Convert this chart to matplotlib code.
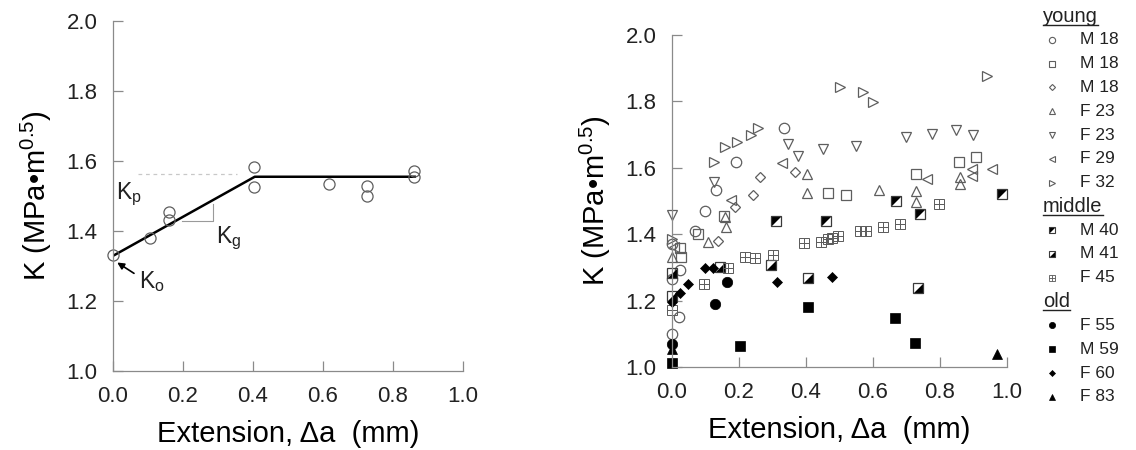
import matplotlib
matplotlib.use("Agg")
import matplotlib.pyplot as plt
import matplotlib.ticker as mticker

plt.rcParams.update({
    "font.family": ["Liberation Sans", "DejaVu Sans"],
    "mathtext.fontset": "custom",
    "mathtext.rm": "Liberation Sans",
    "mathtext.it": "Liberation Sans",
    "mathtext.default": "regular",
    "text.color": "#222222",
})

# ---- left panel: one specimen --------------------------------------------
EX_X = [0.0, 0.105, 0.16, 0.16, 0.403, 0.403, 0.618, 0.725, 0.725, 0.861, 0.861]
EX_Y = [1.331, 1.38, 1.453, 1.431, 1.583, 1.525, 1.534, 1.53, 1.50, 1.572, 1.555]
FIT_X = [0.0, 0.405, 0.862]
FIT_Y = [1.329, 1.555, 1.555]

# ---- right panel: all specimens ------------------------------------------
M18A_X = [0.0, 0.021, 0.0, 0.024, 0.069, 0.099, 0.13, 0.19, 0.335, 0.0]
M18A_Y = [1.10, 1.151, 1.265, 1.292, 1.41, 1.47, 1.534, 1.616, 1.721, 1.37]
M18B_X = [0.027, 0.024, 0.078, 0.155, 0.467, 0.519, 0.728, 0.858, 0.907]
M18B_Y = [1.332, 1.357, 1.40, 1.454, 1.525, 1.518, 1.581, 1.617, 1.632]
M18C_X = [0.138, 0.188, 0.243, 0.263, 0.367]
M18C_Y = [1.379, 1.482, 1.517, 1.571, 1.586]
F23A_X = [0.0, 0.108, 0.161, 0.158, 0.404, 0.404, 0.619, 0.727, 0.727, 0.861, 0.861]
F23A_Y = [1.33, 1.377, 1.422, 1.452, 1.582, 1.524, 1.534, 1.53, 1.498, 1.572, 1.552]
F23B_X = [0.0, 0.126, 0.347, 0.376, 0.45, 0.549, 0.699, 0.775, 0.848, 0.898]
F23B_Y = [1.457, 1.557, 1.672, 1.637, 1.657, 1.665, 1.693, 1.703, 1.715, 1.70]
F29_X = [0.005, 0.176, 0.327, 0.76, 0.895, 0.895, 0.954]
F29_Y = [1.36, 1.504, 1.614, 1.567, 1.597, 1.574, 1.597]
F32_X = [0.0, 0.126, 0.158, 0.193, 0.235, 0.257, 0.501, 0.571, 0.601, 0.939]
F32_Y = [1.387, 1.617, 1.663, 1.677, 1.699, 1.721, 1.843, 1.828, 1.798, 1.878]
M40_X = [0.31, 0.46, 0.669, 0.74, 0.984]
M40_Y = [1.44, 1.44, 1.50, 1.46, 1.52]
M41_X = [0.0, 0.0, 0.143, 0.297, 0.407, 0.735]
M41_Y = [1.214, 1.282, 1.30, 1.307, 1.267, 1.239]
F45_X = [0.0, 0.097, 0.168, 0.218, 0.248, 0.302, 0.394, 0.444, 0.466, 0.477,
         0.496, 0.561, 0.578, 0.629, 0.682, 0.798]
F45_Y = [1.171, 1.251, 1.297, 1.332, 1.328, 1.337, 1.374, 1.377, 1.385, 1.39,
         1.394, 1.41, 1.41, 1.421, 1.431, 1.492]
F55_X = [0.0, 0.128, 0.163]
F55_Y = [1.07, 1.191, 1.255]
M59_X = [0.0, 0.203, 0.407, 0.666, 0.725]
M59_Y = [1.011, 1.063, 1.181, 1.148, 1.073]
F60_X = [0.0, 0.024, 0.049, 0.099, 0.121, 0.313, 0.479]
F60_Y = [1.195, 1.224, 1.25, 1.297, 1.297, 1.257, 1.272]
F83_X = [0.0, 0.969]
F83_Y = [1.053, 1.039]

GROUPS = ["young", "middle", "old"]
SERIES = [
    ("young", "M 18", "o", M18A_X, M18A_Y),
    ("young", "M 18", "s", M18B_X, M18B_Y),
    ("young", "M 18", "D", M18C_X, M18C_Y),
    ("young", "F 23", "^", F23A_X, F23A_Y),
    ("young", "F 23", "v", F23B_X, F23B_Y),
    ("young", "F 29", "<", F29_X, F29_Y),
    ("young", "F 32", ">", F32_X, F32_Y),
    ("middle", "M 40", "ul", M40_X, M40_Y),
    ("middle", "M 41", "lr", M41_X, M41_Y),
    ("middle", "F 45", "grid", F45_X, F45_Y),
    ("old", "F 55", "fo", F55_X, F55_Y),
    ("old", "M 59", "fs", M59_X, M59_Y),
    ("old", "F 60", "fD", F60_X, F60_Y),
    ("old", "F 83", "f^", F83_X, F83_Y),
]

GRAY = "#5e5e5e"
AXC = "#8a8a8a"
UL = [(-1, 1), (1, 1), (-1, -1)]
LR = [(1, -1), (-1, -1), (1, 1)]


def draw(ax, kind, x, y, ms, mew=0.9):
    kw = dict(ls="none", clip_on=False)
    dsize = ms * 0.68
    if kind in ("o", "s", "^", "v", "<", ">"):
        ax.plot(x, y, marker=kind, ms=ms, mfc="none", mec=GRAY, mew=mew, **kw)
    elif kind == "D":
        ax.plot(x, y, marker="D", ms=dsize, mfc="none", mec=GRAY, mew=mew, **kw)
    elif kind in ("ul", "lr"):
        ax.plot(x, y, marker=UL if kind == "ul" else LR, ms=ms, mfc="black",
                mec="none", **kw)
        ax.plot(x, y, marker="s", ms=ms, mfc="none", mec="#3a3a3a", mew=mew, **kw)
    elif kind == "grid":
        ax.plot(x, y, marker="s", ms=ms, mfc="none", mec=GRAY, mew=mew * 0.8, **kw)
        ax.plot(x, y, marker="+", ms=ms, mec=GRAY, mew=mew * 0.8, **kw)
    else:
        m = kind[1:]
        s = dsize if m == "D" else ms
        ax.plot(x, y, marker=m, ms=s, mfc="black", mec="black", mew=0.5, **kw)


def style(ax):
    ax.set_xlim(0, 1)
    ax.set_ylim(1, 2)
    ax.set_xticks([0, 0.2, 0.4, 0.6, 0.8, 1.0])
    ax.set_yticks([1.0, 1.2, 1.4, 1.6, 1.8, 2.0])
    ax.xaxis.set_major_formatter(mticker.FormatStrFormatter("%.1f"))
    ax.yaxis.set_major_formatter(mticker.FormatStrFormatter("%.1f"))
    for s in ("top", "right"):
        ax.spines[s].set_visible(False)
    for s in ("left", "bottom"):
        ax.spines[s].set_color(AXC)
        ax.spines[s].set_linewidth(0.9)
    ax.tick_params(direction="in", length=7, width=0.9, color=AXC,
                   labelsize=16, labelcolor="#222222", pad=11)
    ax.set_xlabel("Extension, \u0394a  (mm)", fontsize=21, labelpad=9)
    ax.set_ylabel("K (MPa\u2022m$^{0.5}$)", fontsize=21, labelpad=9)


fig = plt.figure(figsize=(11.36, 4.5), dpi=100)

# left
ax1 = fig.add_axes([113 / 1136, 79 / 450, 350 / 1136, 350 / 450])
style(ax1)
ax1.plot([0.07, 0.355], [1.562, 1.562], ls=(0, (3, 3)), color="#c8c8c8", lw=0.9)
ax1.plot([0.197, 0.286, 0.286], [1.429, 1.429, 1.478], color="#9a9a9a", lw=0.8)
ax1.plot(FIT_X, FIT_Y, color="black", lw=1.8)
ax1.plot(EX_X, EX_Y, ls="none", marker="o", ms=8, mfc="none", mec=GRAY,
         mew=0.9, clip_on=False)
ax1.text(0.008, 1.49, r"K$_{p}$", fontsize=16.5, ha="left", va="baseline")
ax1.text(0.295, 1.366, r"K$_{g}$", fontsize=16.5, ha="left", va="baseline")
ax1.text(0.075, 1.237, r"K$_{o}$", fontsize=16.5, ha="left", va="baseline")
ax1.annotate("", xy=(0.012, 1.31), xytext=(0.06, 1.279),
             arrowprops=dict(arrowstyle="-|>", color="black", lw=1.2,
                             mutation_scale=10, shrinkA=0, shrinkB=0))

# right
ax2 = fig.add_axes([672 / 1136, 83 / 450, 335 / 1136, 332 / 450])
style(ax2)
for grp, lab, kind, xs, ys in SERIES:
    draw(ax2, kind, xs, ys, 7.5)

# legend column
lax = fig.add_axes([0, 0, 1, 1], facecolor="none")
lax.set_xlim(0, 1136)
lax.set_ylim(450, 0)
lax.axis("off")
STEP = 23.8
row = 0
heads = []
for grp in GROUPS:
    yy = 16 + STEP * row
    heads.append(lax.text(1043, yy, grp, fontsize=14.5, ha="left", va="center"))
    row += 1
    for g, lab, kind, xs, ys in SERIES:
        if g != grp:
            continue
        yy = 16 + STEP * row
        draw(lax, kind, [1052], [yy], 4.5, mew=0.8)
        lax.text(1080, yy, lab, fontsize=12.5, ha="left", va="center")
        row += 1

fig.canvas.draw()
inv = lax.transData.inverted()
for t in heads:
    bb = t.get_window_extent()
    (x0, y0), (x1, _) = inv.transform([(bb.x0, bb.y0), (bb.x1, bb.y1)])
    lax.plot([x0, x1], [y0 - 1, y0 - 1], color="#222222", lw=1.0)

fig.savefig("out.png", dpi=100)
